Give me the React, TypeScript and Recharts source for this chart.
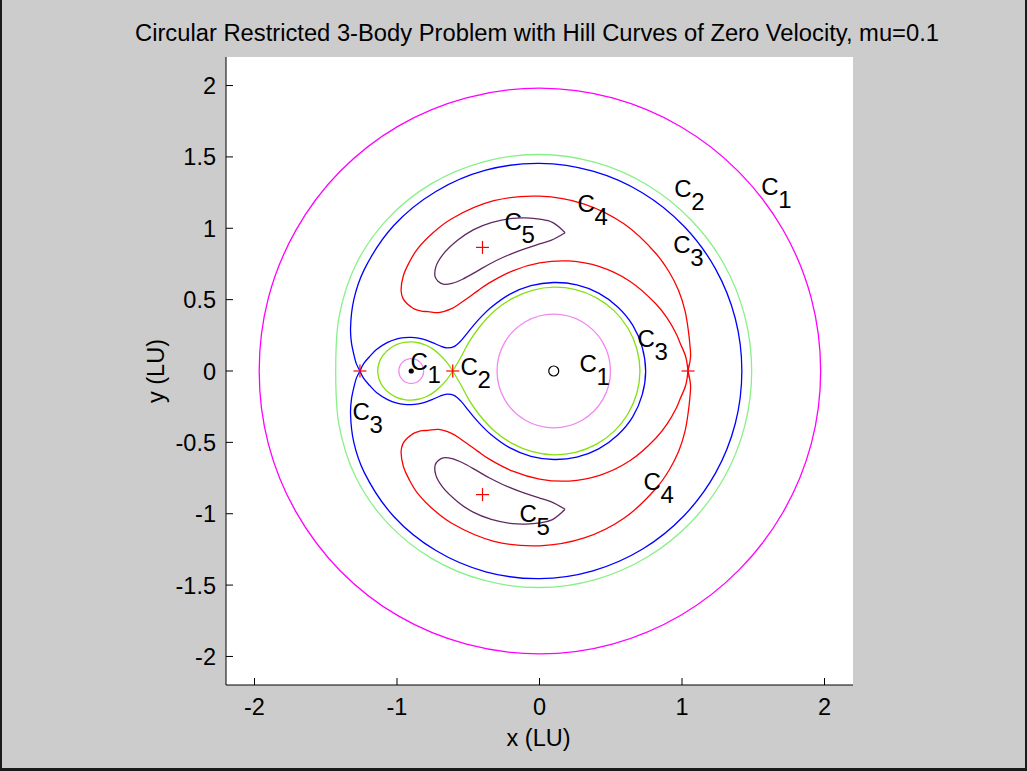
import { ComposedChart, Line, Scatter, XAxis, YAxis, CartesianGrid } from 'recharts';

type Pair = [number, number];

const FONT = '"Liberation Sans", Arial, Helvetica, sans-serif';

// Hill curves of zero velocity, mu = 0.1 (big primary at x = 0.1, small at x = -0.9)

// C1: outer ring and the two small ovals round the primaries
const c1Outer: Pair[] = [
  [1.973, 0], [1.907, 0.511], [1.71, 0.988], [1.397, 1.397], [0.989, 1.713], [0.512, 1.913],
  [0, 1.982], [-0.513, 1.914], [-0.991, 1.716], [-1.399, 1.399], [-1.709, 0.987], [-1.903, 0.51],
  [-1.967, 0], [-1.903, -0.51], [-1.709, -0.987], [-1.399, -1.399], [-0.991, -1.716], [-0.513, -1.914],
  [0, -1.982], [0.512, -1.913], [0.989, -1.713], [1.397, -1.397], [1.71, -0.988], [1.907, -0.511],
];
const c1Big: Pair[] = [
  [0.498, 0], [0.445, 0.199], [0.299, 0.345], [0.1, 0.398], [-0.099, 0.345], [-0.245, 0.199],
  [-0.298, 0], [-0.245, -0.199], [-0.099, -0.345], [0.1, -0.398], [0.299, -0.345], [0.445, -0.199],
];
const c1Small: Pair[] = [
  [-0.813, 0], [-0.839, 0.062], [-0.9, 0.087], [-0.961, 0.062], [-0.987, 0],
  [-0.961, -0.062], [-0.9, -0.087], [-0.839, -0.062],
];

// C2: outer ring plus the figure eight through L1
const c2Outer: Pair[] = [
  [1.489, 0], [1.44, 0.386], [1.295, 0.748], [1.061, 1.061], [0.754, 1.305], [0.392, 1.461],
  [0, 1.517], [-0.393, 1.466], [-0.758, 1.313], [-1.066, 1.066], [-1.289, 0.745], [-1.407, 0.377],
  [-1.43, 0], [-1.407, -0.377], [-1.289, -0.745], [-1.066, -1.066], [-0.758, -1.313], [-0.393, -1.466],
  [0, -1.517], [0.392, -1.461], [0.754, -1.305], [1.061, -1.061], [1.295, -0.748], [1.44, -0.386],
];
const c2LobeSmall: Pair[] = [
  [-0.609, 0], [-0.65, 0.06], [-0.7, 0.114], [-0.75, 0.155], [-0.8, 0.182], [-0.85, 0.198],
  [-0.9, 0.204], [-0.95, 0.2], [-1.0, 0.186], [-1.05, 0.158], [-1.1, 0.108], [-1.125, 0.06],
  [-1.135, 0], [-1.125, -0.06], [-1.1, -0.108], [-1.05, -0.158], [-1.0, -0.186], [-0.95, -0.2],
  [-0.9, -0.204], [-0.85, -0.198], [-0.8, -0.182], [-0.75, -0.155], [-0.7, -0.114], [-0.65, -0.06],
  [-0.609, 0],
];
const c2LobeBig: Pair[] = [
  [-0.609, 0], [-0.55, 0.1], [-0.496, 0.2], [-0.425, 0.303], [-0.319, 0.419], [-0.193, 0.507],
  [-0.051, 0.565], [0.1, 0.587], [0.253, 0.57], [0.397, 0.514], [0.523, 0.423], [0.62, 0.301],
  [0.683, 0.156], [0.705, 0], [0.683, -0.156], [0.62, -0.301], [0.523, -0.423], [0.397, -0.514],
  [0.253, -0.57], [0.1, -0.587], [-0.051, -0.565], [-0.193, -0.507], [-0.319, -0.419], [-0.425, -0.303],
  [-0.496, -0.2], [-0.55, -0.1], [-0.609, 0],
];

// C3: both branches meet at L2
const c3Outer: Pair[] = [
  [-1.26, 0], [-1.285, 0.05], [-1.299, 0.1], [-1.32, 0.2], [-1.326, 0.3], [-1.303, 0.5],
  [-1.23, 0.71], [-1.021, 1.021], [-0.727, 1.258], [-0.377, 1.407], [0, 1.455], [0.375, 1.4],
  [0.721, 1.249], [1.014, 1.014], [1.236, 0.714], [1.374, 0.368], [1.42, 0], [1.374, -0.368],
  [1.236, -0.714], [1.014, -1.014], [0.721, -1.249], [0.375, -1.4], [0, -1.455], [-0.377, -1.407],
  [-0.727, -1.258], [-1.021, -1.021], [-1.23, -0.71], [-1.303, -0.5], [-1.326, -0.3], [-1.32, -0.2],
  [-1.299, -0.1], [-1.285, -0.05], [-1.26, 0],
];
const c3Inner: Pair[] = [
  [-1.26, 0], [-1.235, 0.05], [-1.193, 0.1], [-1.144, 0.15], [-1.066, 0.2], [-1.0, 0.225],
  [-0.95, 0.234], [-0.9, 0.236], [-0.85, 0.23], [-0.8, 0.218], [-0.75, 0.199], [-0.7, 0.177],
  [-0.65, 0.162], [-0.6, 0.171], [-0.55, 0.213], [-0.5, 0.274], [-0.46, 0.323], [-0.403, 0.386],
  [-0.343, 0.443], [-0.21, 0.537], [-0.06, 0.598], [0.1, 0.62], [0.262, 0.604], [0.415, 0.546],
  [0.549, 0.449], [0.655, 0.32], [0.721, 0.166], [0.745, 0], [0.721, -0.166], [0.655, -0.32],
  [0.549, -0.449], [0.415, -0.546], [0.262, -0.604], [0.1, -0.62], [-0.06, -0.598], [-0.21, -0.537],
  [-0.343, -0.443], [-0.403, -0.386], [-0.46, -0.323], [-0.5, -0.274], [-0.55, -0.213], [-0.6, -0.171],
  [-0.65, -0.162], [-0.7, -0.177], [-0.75, -0.199], [-0.8, -0.218], [-0.85, -0.23], [-0.9, -0.236],
  [-0.95, -0.234], [-1.0, -0.225], [-1.066, -0.2], [-1.144, -0.15], [-1.193, -0.1], [-1.235, -0.05],
  [-1.26, 0],
];

// C4: horseshoe halves crossing at L3
const c4Upper: Pair[] = [
  [1.042, 0], [1.06, 0.1], [1.054, 0.2], [1.045, 0.28], [1.021, 0.423], [0.976, 0.564],
  [0.908, 0.697], [0.82, 0.82], [0.595, 1.03], [0.314, 1.17], [0, 1.225], [-0.32, 1.193],
  [-0.616, 1.067], [-0.745, 0.971], [-0.856, 0.856], [-0.912, 0.765], [-0.955, 0.669], [-0.971, 0.561],
  [-0.958, 0.509], [-0.934, 0.476], [-0.904, 0.451], [-0.88, 0.435], [-0.85, 0.424], [-0.82, 0.418],
  [-0.781, 0.416], [-0.708, 0.409], [-0.621, 0.435], [-0.561, 0.471], [-0.508, 0.508], [-0.432, 0.563],
  [-0.355, 0.616], [-0.188, 0.702], [0, 0.757], [0.207, 0.771], [0.422, 0.731], [0.631, 0.631],
  [0.816, 0.471], [0.896, 0.371], [0.961, 0.258], [0.985, 0.2], [1.026, 0.1], [1.042, 0],
];
const c4Lower: Pair[] = [
  [1.042, 0], [1.06, -0.1], [1.054, -0.2], [1.045, -0.28], [1.021, -0.423], [0.976, -0.564],
  [0.908, -0.697], [0.82, -0.82], [0.595, -1.03], [0.314, -1.17], [0, -1.225], [-0.32, -1.193],
  [-0.616, -1.067], [-0.745, -0.971], [-0.856, -0.856], [-0.912, -0.765], [-0.955, -0.669], [-0.971, -0.561],
  [-0.958, -0.509], [-0.934, -0.476], [-0.904, -0.451], [-0.88, -0.435], [-0.85, -0.424], [-0.82, -0.418],
  [-0.781, -0.416], [-0.708, -0.409], [-0.621, -0.435], [-0.561, -0.471], [-0.508, -0.508], [-0.432, -0.563],
  [-0.355, -0.616], [-0.188, -0.702], [0, -0.757], [0.207, -0.771], [0.422, -0.731], [0.631, -0.631],
  [0.816, -0.471], [0.896, -0.371], [0.961, -0.258], [0.985, -0.2], [1.026, -0.1], [1.042, 0],
];

// C5: tadpoles round L4 and L5
const c5Upper: Pair[] = [
  [0.18, 0.969], [0.091, 1.041], [0, 1.064], [-0.094, 1.073], [-0.189, 1.07], [-0.338, 1.04],
  [-0.462, 0.991], [-0.573, 0.917], [-0.681, 0.812], [-0.728, 0.728], [-0.732, 0.659], [-0.712, 0.629],
  [-0.676, 0.609], [-0.614, 0.614], [-0.54, 0.643], [-0.437, 0.7], [-0.35, 0.75], [-0.258, 0.795],
  [-0.148, 0.84], [0, 0.89], [0.08, 0.915], [0.18, 0.969],
];
const c5Lower: Pair[] = [
  [0.18, -0.969], [0.091, -1.041], [0, -1.064], [-0.094, -1.073], [-0.189, -1.07], [-0.338, -1.04],
  [-0.462, -0.991], [-0.573, -0.917], [-0.681, -0.812], [-0.728, -0.728], [-0.732, -0.659], [-0.712, -0.629],
  [-0.676, -0.609], [-0.614, -0.614], [-0.54, -0.643], [-0.437, -0.7], [-0.35, -0.75], [-0.258, -0.795],
  [-0.148, -0.84], [0, -0.89], [0.08, -0.915], [0.18, -0.969],
];

const lagrangePoints: Pair[] = [[-0.609, 0], [-1.26, 0], [1.042, 0], [-0.4, 0.866], [-0.4, -0.866]];
const smallPrimary: Pair[] = [[-0.9, 0]];
const bigPrimary: Pair[] = [[0.1, 0]];

const labelAnchors: Pair[] = [
  [1.556, 1.232], [0.946, 1.218], [0.939, 0.825], [0.687, 0.167], [0.266, 1.113], [-0.246, 0.987],
  [0.729, -0.837], [-0.141, -1.061], [-0.905, 0.005], [-0.555, -0.03], [0.28, -0.009], [-1.312, -0.346],
];
const labelIndices = ['1', '2', '3', '3', '4', '5', '4', '5', '1', '2', '1', '3'];

const xTicks = [-2, -1, 0, 1, 2];
const yTicks = [-2, -1.5, -1, -0.5, 0, 0.5, 1, 1.5, 2];

const toPoints = (pairs: Pair[]) => pairs.map(([x, y]) => ({ x, y }));

// Centripetal Catmull-Rom through the points; closed loops wrap round,
// open ones keep a corner at their end point (the Lagrange crossings).
const catmullRom = (closed: boolean) => (context: any) => {
  let pts: number[][] = [];
  const segment = (p0: number[], p1: number[], p2: number[], p3: number[]) => {
    const d01 = Math.sqrt(Math.hypot(p1[0] - p0[0], p1[1] - p0[1]));
    const d12 = Math.sqrt(Math.hypot(p2[0] - p1[0], p2[1] - p1[1]));
    const d23 = Math.sqrt(Math.hypot(p3[0] - p2[0], p3[1] - p2[1]));
    let c1 = [p1[0], p1[1]];
    let c2 = [p2[0], p2[1]];
    if (d01 > 1e-6) {
      const a = 2 * d01 * d01 + 3 * d01 * d12 + d12 * d12;
      const n = 3 * d01 * (d01 + d12);
      c1 = [0, 1].map((k) => (p1[k] * a - p0[k] * d12 * d12 + p2[k] * d01 * d01) / n);
    }
    if (d23 > 1e-6) {
      const b = 2 * d23 * d23 + 3 * d23 * d12 + d12 * d12;
      const m = 3 * d23 * (d23 + d12);
      c2 = [0, 1].map((k) => (p2[k] * b + p1[k] * d23 * d23 - p3[k] * d12 * d12) / m);
    }
    context.bezierCurveTo(c1[0], c1[1], c2[0], c2[1], p2[0], p2[1]);
  };
  return {
    areaStart() {},
    areaEnd() {},
    lineStart() {
      pts = [];
    },
    point(x: number, y: number) {
      pts.push([+x, +y]);
    },
    lineEnd() {
      const n = pts.length;
      if (n === 0) return;
      context.moveTo(pts[0][0], pts[0][1]);
      if (n === 1) return;
      const at = (i: number) => (closed ? pts[(i + n) % n] : pts[Math.max(0, Math.min(n - 1, i))]);
      const count = closed ? n : n - 1;
      for (let i = 0; i < count; i += 1) segment(at(i - 1), at(i), at(i + 1), at(i + 2));
      if (closed) context.closePath();
    },
  };
};

const loopCurve = catmullRom(true);
const openCurve = catmullRom(false);

const curves = [
  { key: 'c1Outer', data: c1Outer, color: '#ff00ff', closed: true },
  { key: 'c1Big', data: c1Big, color: '#f088f0', closed: true },
  { key: 'c1Small', data: c1Small, color: '#f088f0', closed: true },
  { key: 'c2Outer', data: c2Outer, color: '#88f088', closed: true },
  { key: 'c2LobeSmall', data: c2LobeSmall, color: '#84e010', closed: false },
  { key: 'c2LobeBig', data: c2LobeBig, color: '#84e010', closed: false },
  { key: 'c3Outer', data: c3Outer, color: '#0000ff', closed: false },
  { key: 'c3Inner', data: c3Inner, color: '#0000ff', closed: false },
  { key: 'c4Upper', data: c4Upper, color: '#ff0000', closed: false },
  { key: 'c4Lower', data: c4Lower, color: '#ff0000', closed: false },
  { key: 'c5Upper', data: c5Upper, color: '#602860', closed: false },
  { key: 'c5Lower', data: c5Lower, color: '#602860', closed: false },
];

const labelData = labelAnchors.map(([x, y], i) => ({ x, y, sub: labelIndices[i] }));

const XTick = ({ x, y, payload }: any) => (
  <g>
    <line x1={x} y1={y} x2={x} y2={y - 7} stroke="#000" strokeWidth={1} />
    <text x={x} y={y + 30} textAnchor="middle" fontFamily={FONT} fontSize={23.5} fill="#000">
      {String(payload.value)}
    </text>
  </g>
);

const YTick = ({ x, y, payload }: any) => (
  <g>
    <line x1={x} y1={y} x2={x + 7} y2={y} stroke="#000" strokeWidth={1} />
    <text x={x - 10} y={y + 8.5} textAnchor="end" fontFamily={FONT} fontSize={23.5} fill="#000">
      {String(payload.value)}
    </text>
  </g>
);

const PlusMark = ({ cx, cy }: any) => (
  <g stroke="#ff0000" strokeWidth={1.2}>
    <line x1={cx - 6.5} y1={cy} x2={cx + 6.5} y2={cy} />
    <line x1={cx} y1={cy - 6.5} x2={cx} y2={cy + 6.5} />
  </g>
);

const DotMark = ({ cx, cy }: any) => <circle cx={cx} cy={cy} r={2.6} fill="#000" />;

const RingMark = ({ cx, cy }: any) => (
  <circle cx={cx} cy={cy} r={5} fill="none" stroke="#000" strokeWidth={1.2} />
);

const CurveLabel = ({ cx, cy, payload }: any) => (
  <g fontFamily={FONT} fontSize={24} fill="#000">
    <text x={cx} y={cy}>C</text>
    <text x={cx + 17} y={cy + 13}>{payload.sub}</text>
  </g>
);

export default function App() {
  return (
    <div style={{ position: 'fixed', left: 0, top: 0, width: 1027, height: 771, background: '#cccccc', overflow: 'hidden' }}>
      <div style={{ position: 'absolute', left: 0, top: 0 }}>
        <ComposedChart width={1027} height={771} margin={{ top: 57, right: 174, bottom: 0, left: 0 }}>
          <CartesianGrid horizontal={false} vertical={false} fill="#ffffff" stroke="none" />
          <XAxis
            type="number"
            dataKey="x"
            domain={[-2.2, 2.2]}
            ticks={xTicks}
            interval={0}
            allowDataOverflow
            height={86}
            axisLine={{ stroke: '#000', strokeWidth: 1 }}
            tickLine={false}
            tickSize={0}
            tickMargin={0}
            tick={XTick}
          />
          <YAxis
            type="number"
            dataKey="y"
            domain={[-2.2, 2.2]}
            ticks={yTicks}
            interval={0}
            allowDataOverflow
            width={226}
            axisLine={{ stroke: '#000', strokeWidth: 1 }}
            tickLine={false}
            tickSize={0}
            tickMargin={0}
            tick={YTick}
          />
          {curves.map((c) => (
            <Line
              key={c.key}
              data={toPoints(c.data)}
              dataKey="y"
              type={c.closed ? loopCurve : openCurve}
              stroke={c.color}
              strokeWidth={1.3}
              dot={false}
              activeDot={false}
              isAnimationActive={false}
            />
          ))}
          <Scatter data={toPoints(lagrangePoints)} shape={PlusMark} isAnimationActive={false} />
          <Scatter data={toPoints(smallPrimary)} shape={DotMark} isAnimationActive={false} />
          <Scatter data={toPoints(bigPrimary)} shape={RingMark} isAnimationActive={false} />
          <Scatter data={labelData} shape={CurveLabel} isAnimationActive={false} />
        </ComposedChart>
      </div>
      <svg width={1027} height={771} style={{ position: 'absolute', left: 0, top: 0, pointerEvents: 'none' }}>
        <text
          x={537}
          y={41}
          textAnchor="middle"
          fontFamily={FONT}
          fontSize={23.5}
          textLength={804}
          lengthAdjust="spacingAndGlyphs"
          fill="#000"
        >
          Circular Restricted 3-Body Problem with Hill Curves of Zero Velocity, mu=0.1
        </text>
        <text x={538.6} y={746} textAnchor="middle" fontFamily={FONT} fontSize={23.5} fill="#000">
          x (LU)
        </text>
        <text
          transform="translate(164 371) rotate(-90)"
          textAnchor="middle"
          fontFamily={FONT}
          fontSize={23.5}
          fill="#000"
        >
          y (LU)
        </text>
      </svg>
      <div
        style={{
          position: 'absolute',
          left: 0,
          top: 0,
          width: 1027,
          height: 771,
          boxSizing: 'border-box',
          borderLeft: '2px solid #1a1a1a',
          borderRight: '2px solid #1a1a1a',
          borderBottom: '3px solid #1a1a1a',
          pointerEvents: 'none',
        }}
      />
    </div>
  );
}
